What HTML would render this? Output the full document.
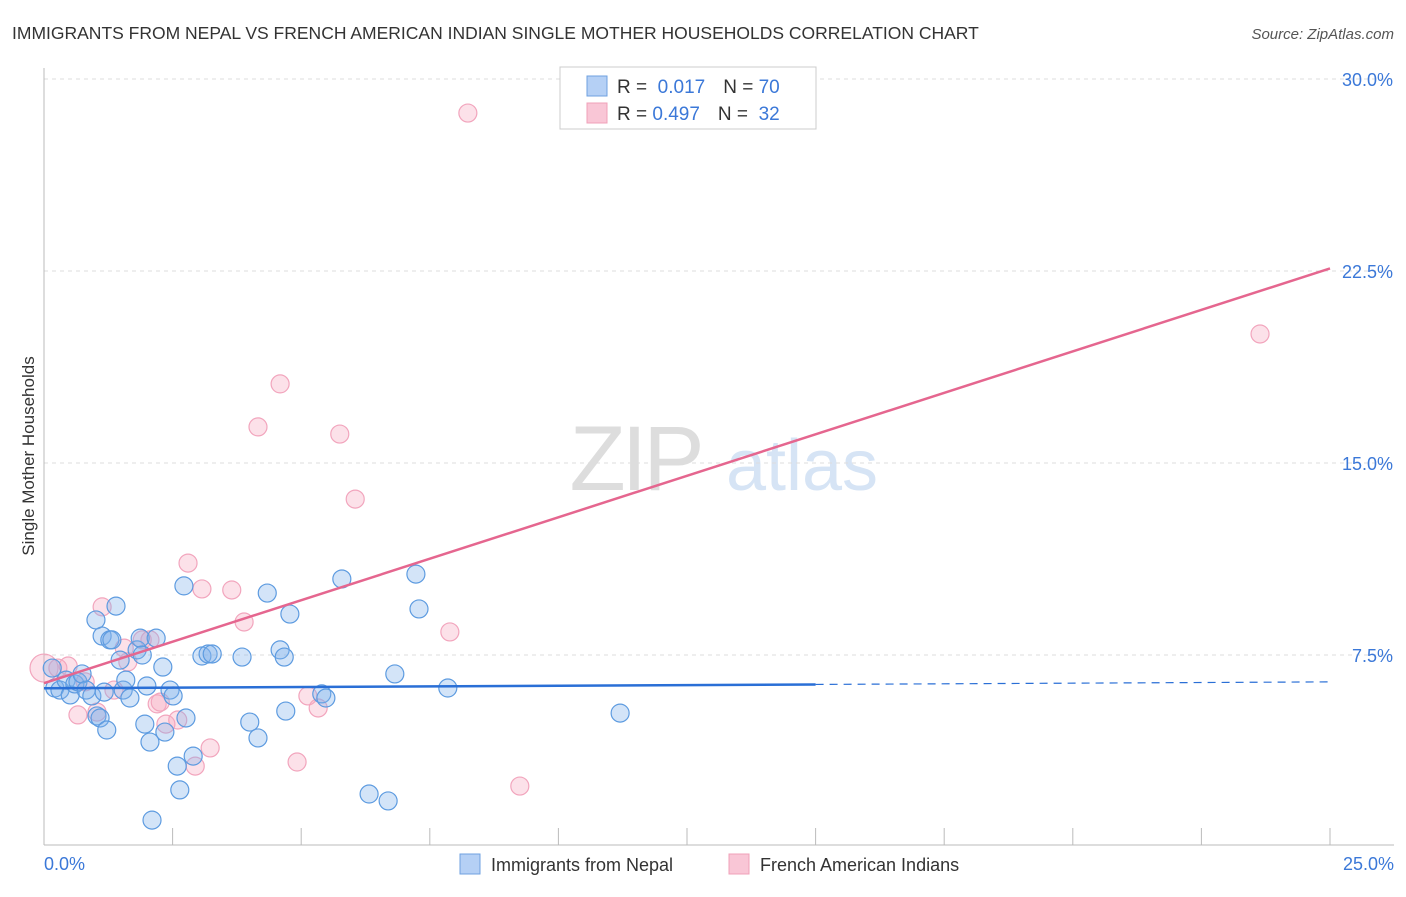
<!DOCTYPE html>
<html><head><meta charset="utf-8"><style>
body{margin:0;background:#fff;font-family:"Liberation Sans",sans-serif;}
svg text{font-family:"Liberation Sans",sans-serif;}
</style></head><body>
<svg id="chart" width="1406" height="892" xmlns="http://www.w3.org/2000/svg">
<text x="12" y="39" font-size="17.5" fill="#333">IMMIGRANTS FROM NEPAL VS FRENCH AMERICAN INDIAN SINGLE MOTHER HOUSEHOLDS CORRELATION CHART</text>
<text x="1394" y="39" font-size="15" fill="#555" text-anchor="end" font-style="italic">Source: ZipAtlas.com</text>
<text transform="translate(34,456) rotate(-90)" font-size="17" fill="#333" text-anchor="middle">Single Mother Households</text>
<g>
<text x="635" y="490" font-size="92" fill="#ddd" text-anchor="middle" font-family="Liberation Serif" letter-spacing="-4">ZIP</text>
<text x="802" y="490" font-size="72" fill="#d6e4f5" text-anchor="middle">atlas</text>
</g>
<g id="grid"></g>
<g id="axes"></g>
<g id="marks"></g>
<g>
<rect x="560" y="67" width="256" height="62" fill="#fff" stroke="#ccc"/>
<rect x="587" y="76" width="20" height="20" fill="#b5d0f5" stroke="#6fa1e0"/>
<rect x="587" y="103" width="20" height="20" fill="#f9c6d6" stroke="#f0a0b8"/>
<text x="617" y="93" font-size="19" fill="#333">R = <tspan fill="#3b78d8">&#160;0.017</tspan><tspan dx="18">N = </tspan><tspan fill="#3b78d8">70</tspan></text>
<text x="617" y="120" font-size="19" fill="#333">R = <tspan fill="#3b78d8">0.497</tspan><tspan dx="18">N = </tspan><tspan fill="#3b78d8">&#160;32</tspan></text>
</g>
<g>
<rect x="460" y="854" width="20" height="20" fill="#b5d0f5" stroke="#6fa1e0"/>
<text x="491" y="871" font-size="18" fill="#333">Immigrants from Nepal</text>
<rect x="729" y="854" width="20" height="20" fill="#f9c6d6" stroke="#f0a0b8"/>
<text x="760" y="871" font-size="18" fill="#333">French American Indians</text>
</g>
</svg>
<script>
const xTicks=[0,2.5,5,7.5,10,12.5,15,17.5,20,22.5,25];
const yTicks=[7.5,15,22.5,30];
const yTickLabels=["7.5%","15.0%","22.5%","30.0%"];
const xTickLabels=["0.0%","25.0%"];
const nepalX=[0.16,0.21,0.31,0.43,0.51,0.60,0.66,0.74,0.82,0.93,1.03,1.09,1.17,1.01,1.13,1.28,1.40,1.22,1.32,1.48,1.54,1.59,1.67,1.81,1.87,1.91,1.96,2.00,2.06,2.10,2.18,2.31,2.35,2.45,2.51,2.59,2.64,2.72,2.76,2.90,3.07,3.19,3.27,3.85,4.00,4.16,4.34,4.59,4.67,4.70,4.78,5.40,5.48,5.79,6.32,6.69,6.82,7.23,7.29,7.85,11.20];
const nepalY=[6.99,6.21,6.13,6.52,5.94,6.37,6.45,6.76,6.13,5.90,5.12,5.04,6.05,8.87,8.24,8.09,9.41,4.57,8.09,7.30,6.13,6.52,5.82,7.70,8.16,7.50,4.80,6.29,4.10,1.05,8.16,7.03,4.49,6.13,5.90,3.16,2.23,10.20,5.04,3.55,7.46,7.54,7.54,7.42,4.88,4.26,9.92,7.70,7.42,5.31,9.10,5.98,5.82,10.47,2.07,1.80,6.76,10.66,9.30,6.21,5.23];
const frenchX=[0.0,0.27,0.47,0.66,0.80,1.03,1.13,1.36,1.56,1.63,1.91,2.06,2.20,2.26,2.37,2.60,2.80,2.94,3.07,3.23,3.65,3.89,4.16,4.59,4.92,5.13,5.33,5.75,6.05,7.89,8.24,9.25,23.64];
const frenchY=[6.99,6.99,7.07,5.16,6.45,5.27,9.38,6.13,7.77,7.23,8.09,8.09,5.59,5.66,4.80,4.96,11.09,3.16,10.08,3.87,10.04,8.79,16.41,18.09,3.32,5.90,5.43,16.13,13.59,8.40,28.67,2.38,20.04];
const nepalLine=[[0,6.2],[15,6.35],[25,6.45]];
const frenchLine=[[0,6.4],[25,22.6]];
const X0=44,X1=1330,YB=847,PXPERY=25.6;
const sx=v=>X0+(X1-X0)*v/25;
const sy=v=>YB-v*PXPERY;
const NS="http://www.w3.org/2000/svg";
function mk(tag,attrs,parent){const e=document.createElementNS(NS,tag);for(const k in attrs)e.setAttribute(k,attrs[k]);parent.appendChild(e);return e;}
const grid=document.getElementById('grid'),axes=document.getElementById('axes'),marks=document.getElementById('marks');
yTicks.forEach((t,i)=>{
 const l=mk('line',{x1:X0,x2:1394,y1:sy(t),y2:sy(t),stroke:'#ddd','stroke-dasharray':'4,4'},grid);
 
 
 const tx=mk('text',{x:1393,y:sy(t)+7,'font-size':18,fill:'#3b78d8','text-anchor':'end'},axes);
 tx.textContent=yTickLabels[i];
 
 
});
const xa=mk('line',{x1:X0,x2:1394,y1:845,y2:845,stroke:'#bbb'},axes);


const ya=mk('line',{x1:X0,x2:X0,y1:68,y2:845,stroke:'#bbb'},axes);


xTicks.forEach(t=>{
 const l=mk('line',{x1:sx(t),x2:sx(t),y1:828,y2:845,stroke:'#bbb'},axes);
 
 
});
const xl0=mk('text',{x:44,y:870,'font-size':18,fill:'#3b78d8'},axes);xl0.textContent=xTickLabels[0];


const xl1=mk('text',{x:1394,y:870,'font-size':18,fill:'#3b78d8','text-anchor':'end'},axes);xl1.textContent=xTickLabels[1];


frenchX.forEach((v,i)=>{
 const c=mk('circle',{cx:sx(v),cy:sy(frenchY[i]),r:i===0?14:9,fill:'rgba(246,168,192,0.35)',stroke:'#f2a5bd','stroke-width':1.2},marks);
 
 
});
nepalX.forEach((v,i)=>{
 const c=mk('circle',{cx:sx(v),cy:sy(nepalY[i]),r:9,fill:'rgba(130,178,235,0.35)',stroke:'#5d9be0','stroke-width':1.2},marks);
 
 
});
const bl=mk('line',{x1:sx(nepalLine[0][0]),y1:sy(nepalLine[0][1]),x2:sx(nepalLine[1][0]),y2:sy(nepalLine[1][1]),stroke:'#2a6fd6','stroke-width':2.5},marks);


const bd=mk('line',{x1:sx(nepalLine[1][0]),y1:sy(nepalLine[1][1]),x2:sx(nepalLine[2][0]),y2:sy(nepalLine[2][1]),stroke:'#2a6fd6','stroke-width':1.2,'stroke-dasharray':'8,6'},marks);


const pl=mk('line',{x1:sx(frenchLine[0][0]),y1:sy(frenchLine[0][1]),x2:sx(frenchLine[1][0]),y2:sy(frenchLine[1][1]),stroke:'#e5668f','stroke-width':2.5},marks);


</script>
</body></html>
